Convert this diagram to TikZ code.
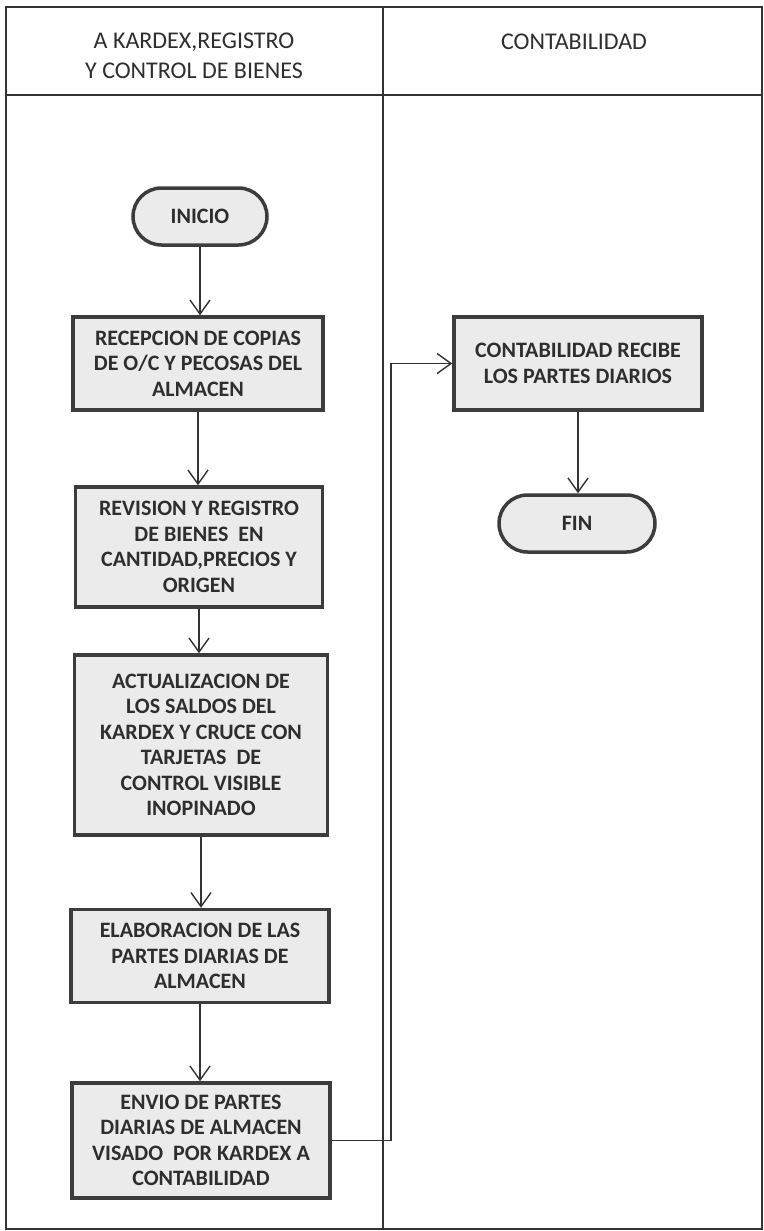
\documentclass[tikz,border=0pt]{standalone}
\usepackage{fontspec}
\setmainfont{Carlito}
\usetikzlibrary{arrows.meta,shapes.misc}
\definecolor{boxfill}{HTML}{EBEBEB}
\definecolor{boxline}{HTML}{3C3C3C}
\definecolor{txt}{HTML}{2E2E2E}
\definecolor{lin}{HTML}{333333}
\begin{document}
\begin{tikzpicture}[x=1pt,y=-1pt,
  procbox/.style={draw=boxline, line width=3.5pt, fill=boxfill, text=txt,
    font=\bfseries\fontsize{22}{25.5}\selectfont, align=center, inner sep=0pt},
  termbox/.style={rounded rectangle, draw=boxline, line width=3.5pt, fill=boxfill, text=txt,
    font=\bfseries\fontsize{22}{25.5}\selectfont, align=center, inner sep=0pt},
  headtxt/.style={text=txt, font=\fontsize{24}{30}\selectfont, align=center, inner sep=0pt},
  frameline/.style={draw=lin, line width=2pt},
  flow/.style={draw=lin, line width=1.4pt, -{Straight Barb[length=14pt,width=20pt,line width=1.4pt]}}
]
\useasboundingbox (0,0) rectangle (763,1231);
\fill[white] (0,0) rectangle (763,1231);

% frame
\draw[frameline] (6,7) rectangle (762,1229);
\coordinate (hl) at (6,95);
\coordinate (hr) at (762,95);
\coordinate (dt) at (383,7);
\coordinate (db) at (383,1229);
\draw[frameline] (hl) -- (hr);
\draw[frameline] (dt) -- (db);

% headers
\node[headtxt] (h1) at (194,56) {A KARDEX,REGISTRO\\Y CONTROL DE BIENES};
\node[headtxt] (h2) at (574,42) {CONTABILIDAD};

% left column
\node[termbox, minimum width=134pt, minimum height=57pt] (inicio) at (200,216.5) {INICIO};
\node[procbox, minimum width=250pt, minimum height=93pt] (b1) at (198,363.5)
  {RECEPCION DE COPIAS\\DE O/C Y PECOSAS DEL\\ALMACEN};
\node[procbox, minimum width=247pt, minimum height=120pt] (b2) at (199,547)
  {REVISION Y REGISTRO\\DE BIENES\ \ EN\\CANTIDAD,PRECIOS Y\\ORIGEN};
\node[procbox, minimum width=253pt, minimum height=180pt] (b3) at (201,745)
  {ACTUALIZACION DE\\LOS SALDOS DEL\\KARDEX Y CRUCE CON\\TARJETAS\ \ DE\\CONTROL VISIBLE\\INOPINADO};
\node[procbox, minimum width=258pt, minimum height=93pt] (b4) at (200,956)
  {ELABORACION DE LAS\\PARTES DIARIAS DE\\ALMACEN};
\node[procbox, minimum width=258pt, minimum height=115pt] (b5) at (201,1140.5)
  {ENVIO DE PARTES\\DIARIAS DE ALMACEN\\VISADO\ \ POR KARDEX A\\CONTABILIDAD};

% right column
\node[procbox, minimum width=248pt, minimum height=93pt] (c1) at (578,363.5)
  {CONTABILIDAD RECIBE\\LOS PARTES DIARIOS};
\node[termbox, minimum width=156pt, minimum height=57pt] (fin) at (577,523.5) {FIN};

% connectors
\draw[flow] (inicio.south) -- (inicio.south |- b1.north);
\draw[flow] (b1.south) -- (b1.south |- b2.north);
\draw[flow] (b2.south) -- (b2.south |- b3.north);
\draw[flow] (b3.south) -- (b3.south |- b4.north);
\draw[flow] (b4.south) -- (b4.south |- b5.north);
\draw[flow] (c1.south) -- (c1.south |- fin.north);
\coordinate (bend) at (391,700);
\draw[flow] (b5.east) -- (b5.east -| bend) -- (bend |- c1.west) -- (c1.west);
\end{tikzpicture}
\end{document}
